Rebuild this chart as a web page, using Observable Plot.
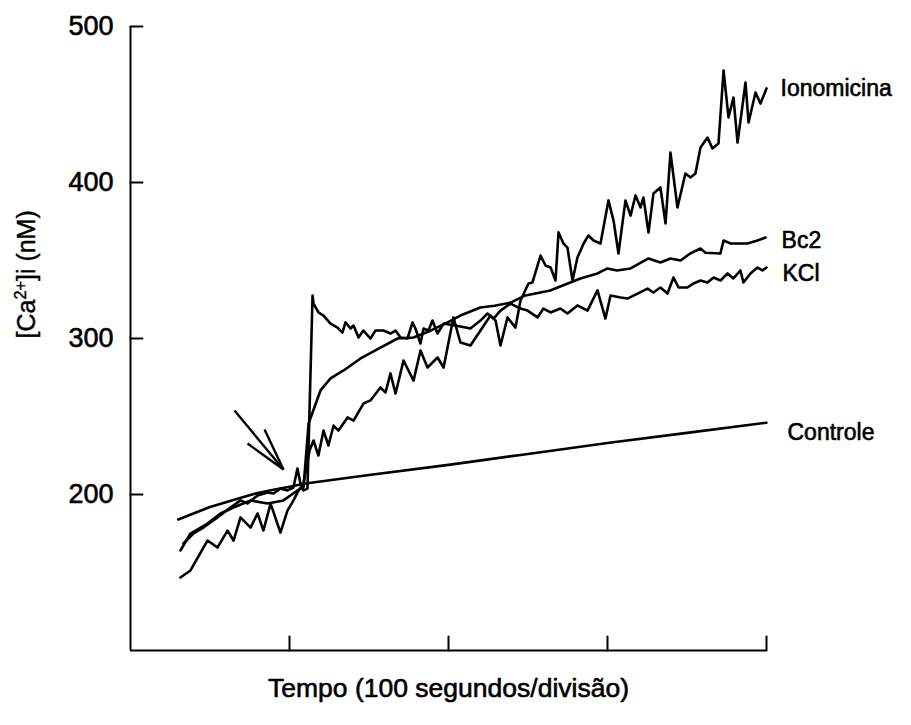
<!DOCTYPE html>
<html>
<head>
<meta charset="utf-8">
<script src="https://cdn.jsdelivr.net/npm/d3@7"></script>
<script src="https://cdn.jsdelivr.net/npm/@observablehq/plot@0.6"></script>
<style>
  html, body { margin: 0; padding: 0; background: #fff; }
  #chart svg { display: block; }
</style>
</head>
<body>
<div id="chart"></div>
<script>
// ---- data (time in seconds, [Ca2+]i in nM) ----
const seriesNames = ["Ionomicina", "Bc2", "KCl", "Controle"];
const yTicks = [200, 300, 400, 500];
const xTicks = [100, 200, 300, 400];
const xLabel = "Tempo (100 segundos/divisão)";
const yLabelParts = ["[Ca", "2+", "]i (nM)"];

const controle = [[30,184],[40,188],[50,192],[60,195],[70,198],[80,201],[90,203],[100,205],[110,207],[150,212.5],[200,219],[250,226],[300,233],[350,239.5],[400,246]];

const bc2 = [[31.4,164.1],[37.7,175],[48.4,181.4],[56.6,187.8],[64.8,191.7],[75.5,196.2],[86.2,194.2],[96.2,196.2],[105,202.6],[108.8,204.5],[112,245.5],[119.5,266.7],[125.8,274.4],[134,279.5],[144.7,287.2],[157.2,294.2],[168,300],[178,300.6],[188.7,305],[199.4,310.3],[207.5,314.7],[220,319.9],[229,321],[239,323],[248.4,327.6],[264,330.8],[275,335.3],[283,338.5],[293.7,341.7],[300,344.9],[306,343.6],[314.5,344.9],[325.8,351.3],[333.3,348.7],[339.6,351.3],[346,350],[352,354.5],[358.5,357.7],[361.6,355],[371,354.5],[373,362.8],[377.4,360.9],[388,360.9],[394.3,362.8],[399.4,364.7]];

const kcl = [[33.3,168.6],[39.6,175],[45.9,178.8],[54.7,185.3],[62.9,191.7],[69.2,196.2],[73.6,194.2],[79.9,199.4],[86.2,201.3],[89.9,200.6],[94.3,203.8],[98.7,202.6],[102.5,204.5],[105,216.7],[106.9,207],[108.8,202.6],[111.3,203.8],[114.5,327.6],[115.1,322.4],[118.2,316.7],[121.4,314.7],[125.8,309.6],[130.2,307],[133.3,303.8],[135.2,310.3],[138.4,306.4],[140.3,308.3],[143.4,300.6],[146.5,305.1],[150.9,300],[154.1,305.1],[159.1,305.1],[163.5,303.2],[166.7,305.1],[169.8,300.6],[174.2,300],[177.4,310.3],[179.2,306.4],[182.4,296.8],[184.3,306.4],[187.4,305.1],[189.9,311.5],[193.1,303.2],[196.9,309.6],[207.5,307.7],[213.8,306.4],[220.1,311.5],[224.5,316],[228.3,312.8],[232.7,317.9],[239,322.4],[245.3,319.2],[249.7,317.9],[256,313.5],[259.7,319.2],[264.2,316.7],[270.4,319.2],[274.8,316],[281.1,321.2],[287.4,317.9],[293.7,330.8],[298.7,312.8],[301.9,327.6],[308.2,326.3],[312.6,325.6],[318.9,328.8],[325.2,332],[328.9,329.5],[333.3,332.7],[337.7,328.8],[341.5,339.1],[344.7,332.7],[350.3,332.7],[354.1,335.3],[358.5,337.2],[362.9,335.9],[366.7,339.1],[371.1,337.2],[375.5,341.7],[379.2,338.5],[383.6,343.6],[385.5,335.9],[389.9,341.7],[394.3,345.5],[397.5,343.6],[400,345.5]];

const ionomicina = [[31.4,146.8],[37.7,151.3],[48.4,170.5],[54.7,166],[61,176.9],[64.8,170.5],[69.2,185.3],[75.5,178.8],[79.9,187.8],[83.6,176.9],[88.1,194.2],[94.3,175.6],[98.7,189.7],[102.5,196.2],[105.7,202.6],[108.8,207],[112.6,228.2],[115.1,234.6],[118.2,225],[121.4,241],[124.5,231.4],[127.7,244.2],[130.8,241],[136.5,249.4],[140.3,247.4],[146.5,258.3],[150.9,260.3],[157.2,268.6],[160.4,265.4],[163.5,277.6],[166.7,264.7],[171.7,285.9],[178,273],[182.4,292.3],[186.8,281.4],[193.1,287.8],[196.9,281.4],[199.4,294.2],[203.1,313.5],[207.5,297.4],[213.8,295.5],[220.1,305.1],[226.4,314.7],[229.6,311.5],[232.7,295.5],[237.1,313.5],[242.1,307],[245.3,324.4],[250.3,335.3],[252.8,335.9],[257.9,353.2],[261,346.8],[264.2,345.5],[267.3,337.2],[269.2,368],[272.3,360.9],[274.8,358.3],[278,337.2],[281.1,351.9],[285,360.9],[288,366],[291.2,362.8],[295.6,360.9],[300.6,388.5],[303.8,375.6],[306.9,354.5],[311.3,388.5],[314.5,378.8],[317.6,391.7],[320.8,384],[322.6,390.4],[325.8,367.9],[328.9,393],[333.3,396.8],[336.5,373.7],[339.6,419.2],[344,384],[349,405.8],[352.2,403.2],[355.3,405.8],[358.5,422.4],[362.9,428.8],[366,421.8],[369.8,425],[373,471.8],[376.1,441.7],[379.2,454.5],[381.8,425.6],[386.8,464.1],[388.7,438.5],[393.1,457.7],[396.2,450.6],[400,460.3]];

// stimulus arrow (annotation, in data units)
const arrowTip = [96.2, 216.0];
const arrowTails = [[65.4, 253.8], [84.3, 241.7], [73.6, 232.7]];

// ---- build tables ----
const seriesValues = {Ionomicina: ionomicina, Bc2: bc2, KCl: kcl, Controle: controle};
const rows = seriesNames.flatMap(name => seriesValues[name].map(([t, v]) => ({series: name, t, v})));
const ends = seriesNames.map(name => {
  const s = seriesValues[name];
  const [t, v] = s[s.length - 1];
  return {series: name, t, v};
});
const arrowRows = arrowTails.map(([x1, y1]) => ({x1, y1, x2: arrowTip[0], y2: arrowTip[1]}));

// label styling offsets (pixels)
const labelDx = {Ionomicina: 14, Bc2: 16, KCl: 16, Controle: 21};
const labelDy = {Ionomicina: 0, Bc2: 3, KCl: 6, Controle: 10};

const tickShape = {draw(context, l) { context.moveTo(0, 0); context.lineTo(0, -l); }};
const FONT = "'Liberation Sans', Arial, Helvetica, sans-serif";
const textHeavy = {fill: "black", stroke: "black", strokeWidth: 0.6};

const chart = Plot.plot({
  width: 911,
  height: 725,
  marginLeft: 130,
  marginRight: 145,
  marginTop: 26,
  marginBottom: 75,
  style: {fontFamily: FONT, background: "white", color: "black"},
  x: {domain: [0, 400], axis: null},
  y: {domain: [100, 500], axis: null},
  marks: [
    Plot.ruleX([0], {stroke: "black", strokeWidth: 2}),
    Plot.ruleY([100], {stroke: "black", strokeWidth: 2}),
    Plot.vector(yTicks, {x: 0, y: d => d, length: 12, rotate: 90, anchor: "start", shape: tickShape, stroke: "black", strokeWidth: 2}),
    Plot.vector(xTicks, {x: d => d, y: 100, length: 14, rotate: 0, anchor: "start", shape: tickShape, stroke: "black", strokeWidth: 2}),
    Plot.text(yTicks, {x: 0, y: d => d, text: d => String(d), textAnchor: "end", dx: -17, fontSize: 27, ...textHeavy}),
    Plot.line(rows, {x: "t", y: "v", z: "series", stroke: "black", strokeWidth: 2.6, strokeLinejoin: "round"}),
    Plot.link(arrowRows, {x1: "x1", y1: "y1", x2: "x2", y2: "y2", stroke: "black", strokeWidth: 2.4}),
    Plot.text(ends, {x: "t", y: "v", text: "series", textAnchor: "start", fontSize: 23, ...textHeavy,
      render(index, scales, values, dims, context, next) {
        const g = next(index, scales, values, dims, context);
        d3.select(g).selectAll("text").each(function(_, i) {
          const name = ends[index[i]].series;
          const el = d3.select(this);
          const tr = el.attr("transform");
          el.attr("transform", `translate(${labelDx[name]},${labelDy[name]})` + (tr ? " " + tr : ""));
        });
        return g;
      }}),
    Plot.text([xLabel], {frameAnchor: "bottom", dy: 46, fontSize: 26.5, ...textHeavy}),
    Plot.text([yLabelParts.join("")], {frameAnchor: "left", dx: -104, rotate: -90, fontSize: 25, fill: "black", stroke: "black", strokeWidth: 0.4,
      render(index, scales, values, dims, context, next) {
        const g = next(index, scales, values, dims, context);
        d3.select(g).selectAll("text").each(function() {
          const el = d3.select(this);
          el.text(null);
          el.append("tspan").text(yLabelParts[0]);
          el.append("tspan").attr("baseline-shift", "super").attr("font-size", "65%").text(yLabelParts[1]);
          el.append("tspan").text(yLabelParts[2]);
        });
        return g;
      }})
  ]
});
document.getElementById("chart").appendChild(chart);
</script>
</body>
</html>
